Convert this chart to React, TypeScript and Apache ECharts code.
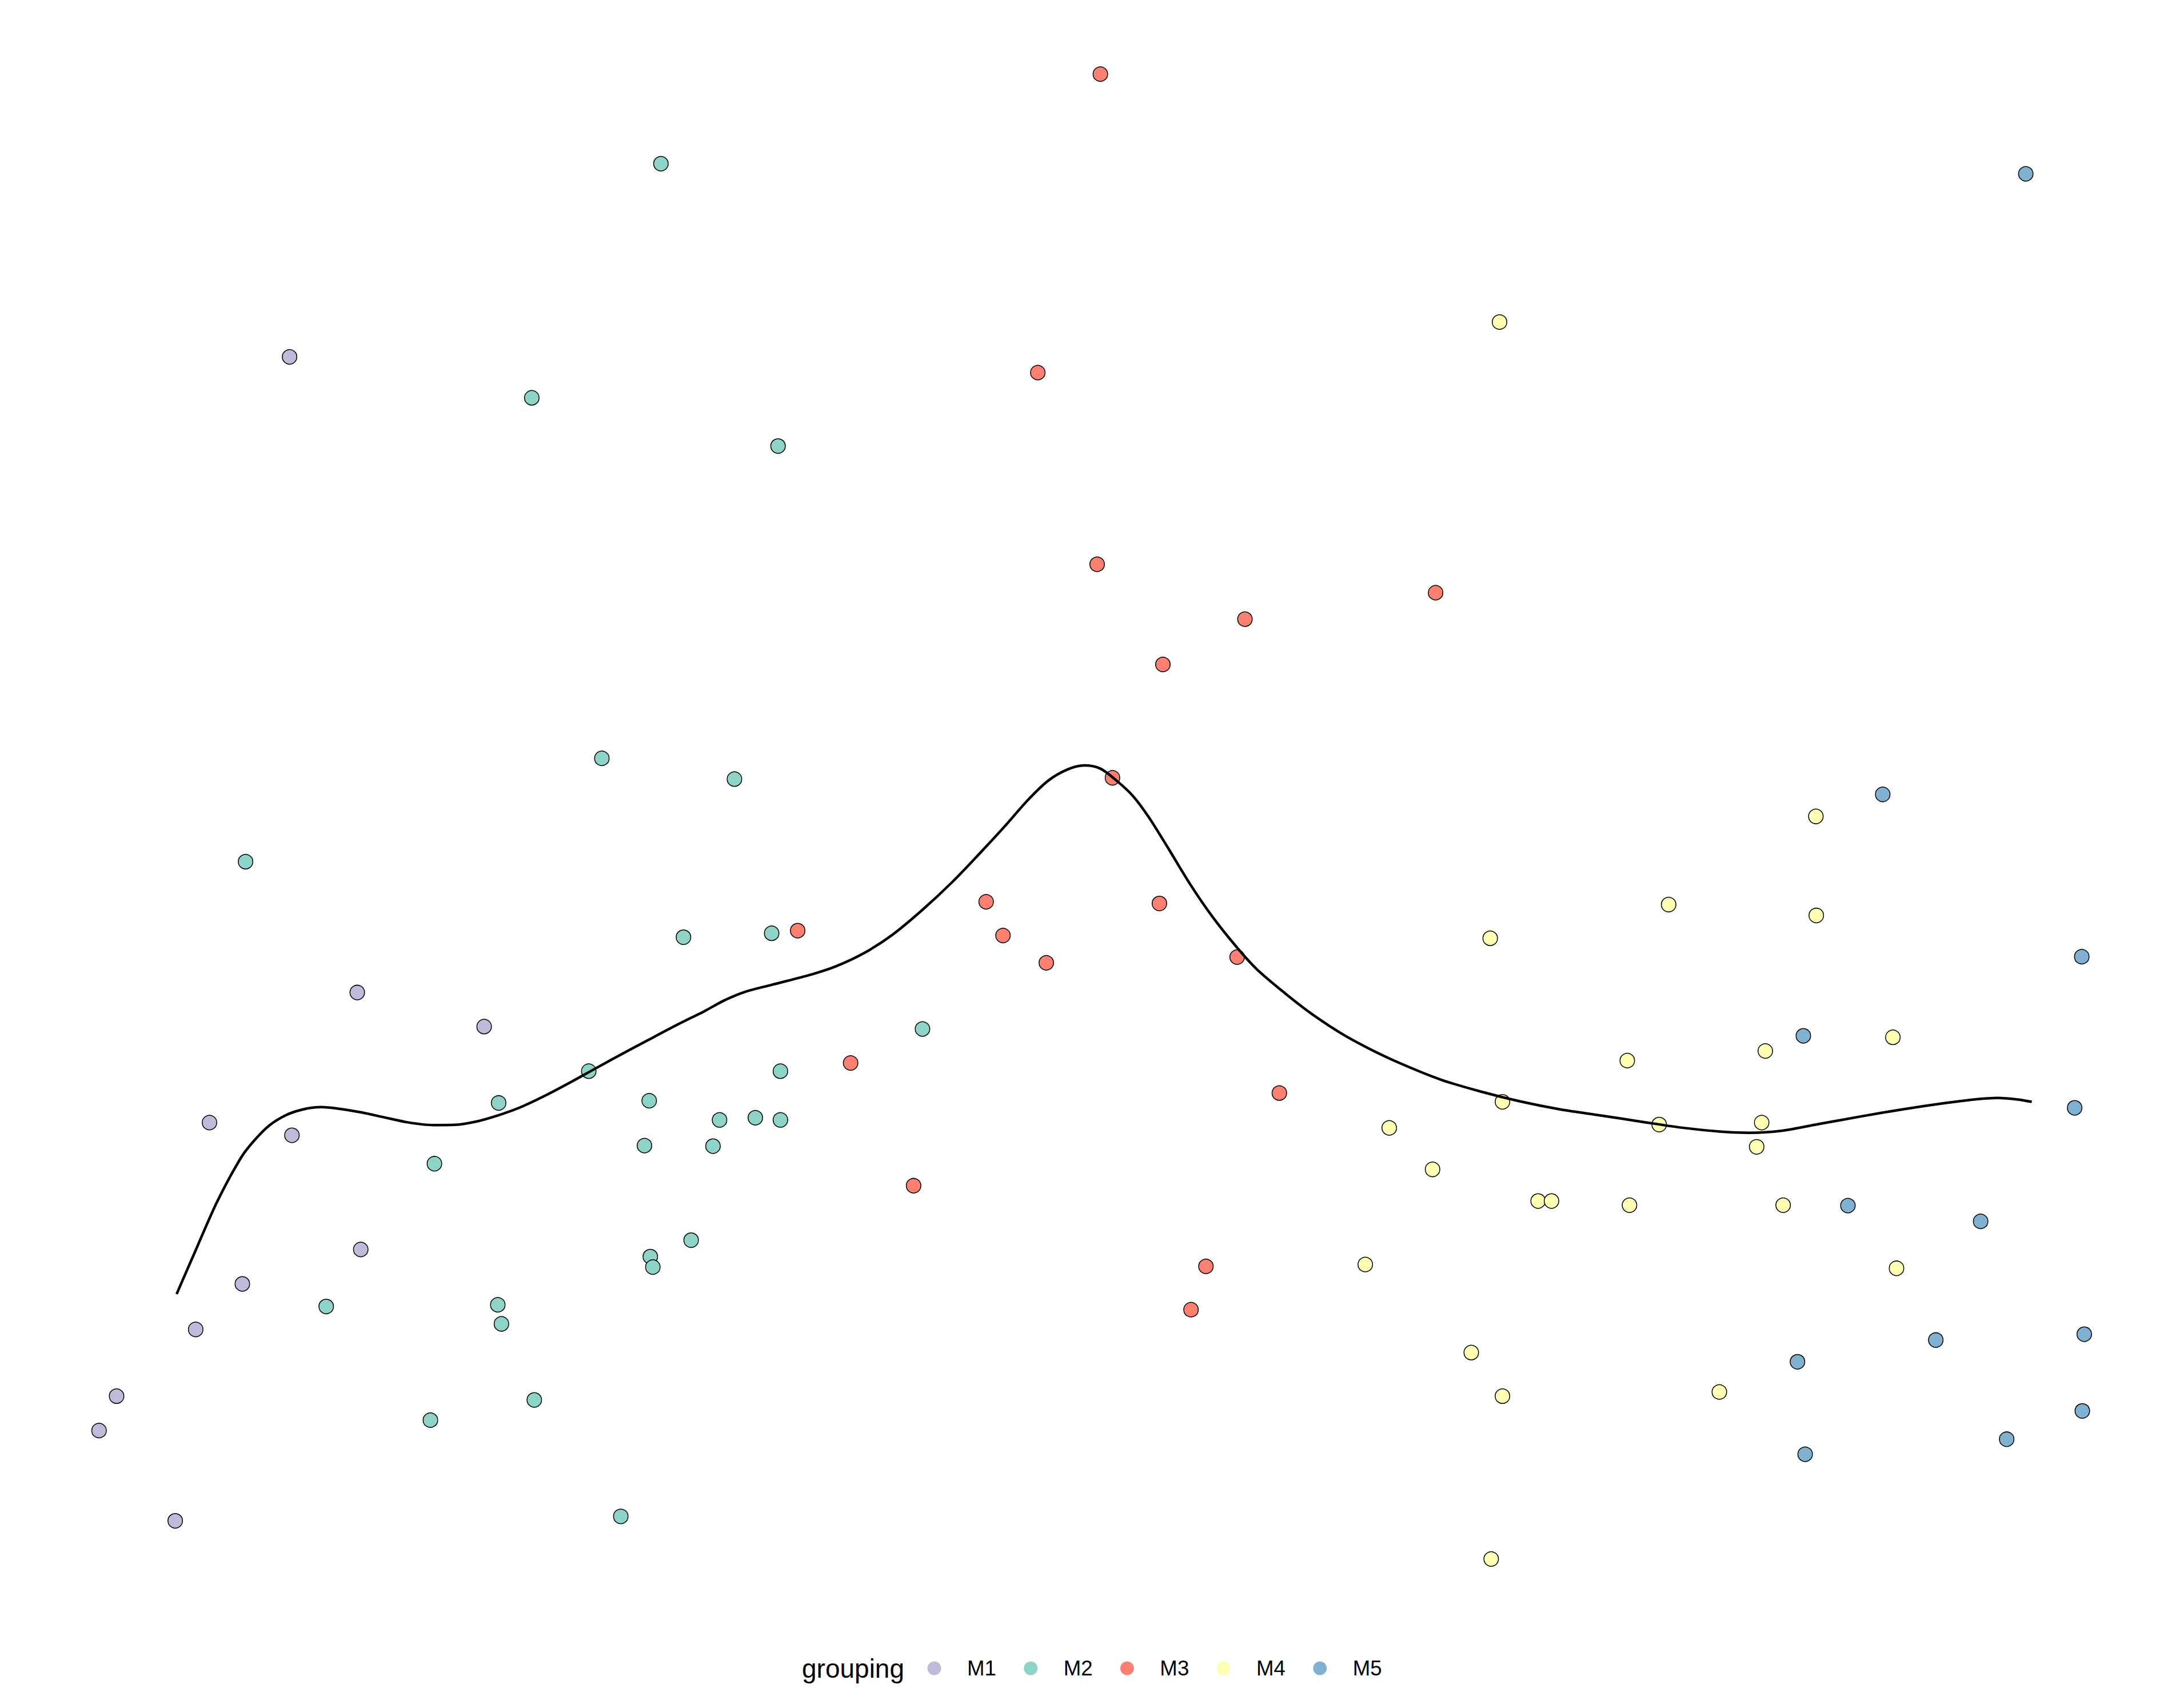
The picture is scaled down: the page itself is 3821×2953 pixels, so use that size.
import React, { useEffect, useRef } from "react";
import * as echarts from "echarts";

// grouping categories and colours
const groups = ["M1", "M2", "M3", "M4", "M5"];
const groupColors = ["#BEBADA", "#8DD3C7", "#FB8072", "#FFFFB3", "#80B1D3"];

// point values [x, y] per group
const m1Points = [
  [20.79, 91.58], [25.65, 45.95], [34.76, 43.5], [15.04, 36.61], [20.96, 35.7],
  [25.9, 27.5], [17.4, 25.03], [14.05, 21.76], [8.37, 16.97], [7.11, 14.5], [12.58, 8.02],
];
const m2Points = [
  [47.45, 105.45], [38.18, 88.64], [55.86, 85.18], [43.21, 62.76], [52.73, 61.27],
  [17.63, 55.34], [49.07, 49.92], [55.4, 50.2], [66.23, 43.33], [42.27, 40.3],
  [56.03, 40.3], [35.8, 38.02], [46.61, 38.18], [51.66, 36.8], [54.23, 36.96],
  [56.03, 36.8], [46.27, 34.96], [51.19, 34.92], [31.19, 33.66], [49.62, 28.17],
  [46.69, 26.99], [46.87, 26.24], [23.42, 23.41], [35.74, 23.53], [36.0, 22.16],
  [38.36, 16.7], [30.9, 15.25], [44.57, 8.34],
];
const m3Points = [
  [79.0, 111.88], [74.51, 90.45], [78.77, 76.69], [89.38, 72.75], [103.07, 74.65],
  [83.49, 69.5], [79.87, 61.36], [70.8, 52.46], [83.24, 52.34], [72.01, 50.04],
  [75.12, 48.08], [88.82, 48.49], [57.27, 50.39], [61.07, 40.89], [91.85, 38.73],
  [65.59, 32.08], [86.58, 26.29], [85.51, 23.18],
];
const m4Points = [
  [107.66, 94.08], [130.37, 58.59], [119.8, 52.26], [130.4, 51.48], [106.99, 49.84],
  [135.9, 42.73], [126.74, 41.75], [116.83, 41.06], [107.87, 38.1], [99.74, 36.23],
  [119.12, 36.47], [126.48, 36.61], [126.12, 34.87], [102.85, 33.25], [110.43, 30.98],
  [111.39, 30.98], [116.99, 30.68], [128.02, 30.68], [98.02, 26.42], [136.16, 26.15],
  [105.63, 20.1], [107.87, 16.97], [123.44, 17.27], [107.06, 5.28],
];
const m5Points = [
  [145.44, 104.72], [135.17, 60.17], [149.46, 48.52], [129.47, 42.84], [148.95, 37.67],
  [132.67, 30.65], [142.2, 29.52], [149.64, 21.42], [138.98, 21.0], [129.05, 19.44],
  [149.5, 15.91], [144.07, 13.88], [129.6, 12.8],
];
const groupPoints = [m1Points, m2Points, m3Points, m4Points, m5Points];

// smoothed trend curve [x, y]
const smoothCurve = [
  [12.68, 24.3], [14.0, 27.33], [15.59, 30.93], [17.31, 34.1], [18.26, 35.33],
  [19.33, 36.4], [20.48, 37.12], [21.72, 37.55], [23.07, 37.72], [24.36, 37.6],
  [25.95, 37.34], [27.53, 37.0], [29.26, 36.63], [31.13, 36.43], [32.66, 36.45],
  [34.3, 36.71], [35.74, 37.12], [37.32, 37.69], [39.05, 38.5], [41.06, 39.56],
  [43.94, 41.15], [46.53, 42.53], [48.83, 43.74], [50.56, 44.6], [52.0, 45.38],
  [53.44, 45.98], [55.4, 46.5], [58.28, 47.25], [60.0, 47.82], [62.02, 48.77],
  [64.04, 50.07], [66.2, 51.86], [68.36, 53.87], [70.37, 55.97], [72.1, 57.84],
  [73.83, 59.8], [75.26, 61.16], [76.64, 61.96], [77.85, 62.25], [79.0, 62.02],
  [80.16, 61.16], [81.31, 60.09], [82.46, 58.56], [83.9, 56.26], [85.48, 53.67],
  [87.06, 51.37], [88.79, 49.2], [90.23, 47.62], [92.25, 45.9], [94.11, 44.46],
  [96.28, 43.02], [98.29, 41.92], [100.54, 40.86], [103.42, 39.7], [106.3, 38.84],
  [109.18, 38.12], [112.06, 37.55], [114.94, 37.12], [117.81, 36.68], [120.7, 36.25],
  [123.57, 35.96], [125.59, 35.88], [127.89, 36.02], [130.77, 36.54], [133.65, 37.06],
  [136.53, 37.55], [139.4, 37.98], [141.71, 38.27], [143.43, 38.38], [144.87, 38.27],
  [145.87, 38.1],
];

const FONT = "'Liberation Sans', Arial, Helvetica, sans-serif";

export default function App() {
  const ref = useRef<HTMLDivElement>(null);

  useEffect(() => {
    if (!ref.current) return;
    const chart = echarts.init(ref.current, undefined, { renderer: "svg" });

    const scatterSeries = groups.map((g, i) => ({
      name: g,
      type: "scatter",
      data: groupPoints[i],
      symbol: "circle",
      symbolSize: 25.5,
      itemStyle: {
        color: groupColors[i],
        borderColor: "#000000",
        borderWidth: 1.5,
        opacity: 1,
      },
      z: 2,
      silent: true,
    }));

    chart.setOption({
      animation: false,
      backgroundColor: "#ffffff",
      grid: { left: 0, top: 0, width: 3821, height: 2856, containLabel: false },
      xAxis: {
        type: "value",
        min: 0,
        max: 156.8,
        show: false,
        splitLine: { show: false },
      },
      yAxis: {
        type: "value",
        min: 0,
        max: 117.2,
        show: false,
        splitLine: { show: false },
      },
      legend: {
        data: groups.map((g, i) => ({
          name: g,
          icon: "circle",
          itemStyle: { color: groupColors[i], borderWidth: 0 },
        })),
        orient: "horizontal",
        left: 1622.6,
        top: 2900,
        padding: 0,
        itemWidth: 24,
        itemHeight: 24,
        itemGap: 48.3,
        selectedMode: false,
        textStyle: {
          fontFamily: FONT,
          fontSize: 36.7,
          color: "#000000",
          padding: [0, 0, 0, 40.4],
        },
      },
      graphic: [
        {
          type: "text",
          left: 1403,
          top: 2917 - 21,
          style: {
            text: "grouping",
            fontFamily: FONT,
            fontSize: 46,
            fill: "#000000",
          },
        },
      ],
      series: [
        ...scatterSeries,
        {
          name: "smooth",
          type: "line",
          data: smoothCurve,
          showSymbol: false,
          smooth: 0.3,
          lineStyle: { color: "#000000", width: 4.5 },
          z: 5,
          silent: true,
        },
      ],
    });

    return () => chart.dispose();
  }, []);

  return (
    <div
      ref={ref}
      style={{
        position: "fixed",
        left: 0,
        top: 0,
        width: "3821px",
        height: "2953px",
        background: "#ffffff",
      }}
    />
  );
}
